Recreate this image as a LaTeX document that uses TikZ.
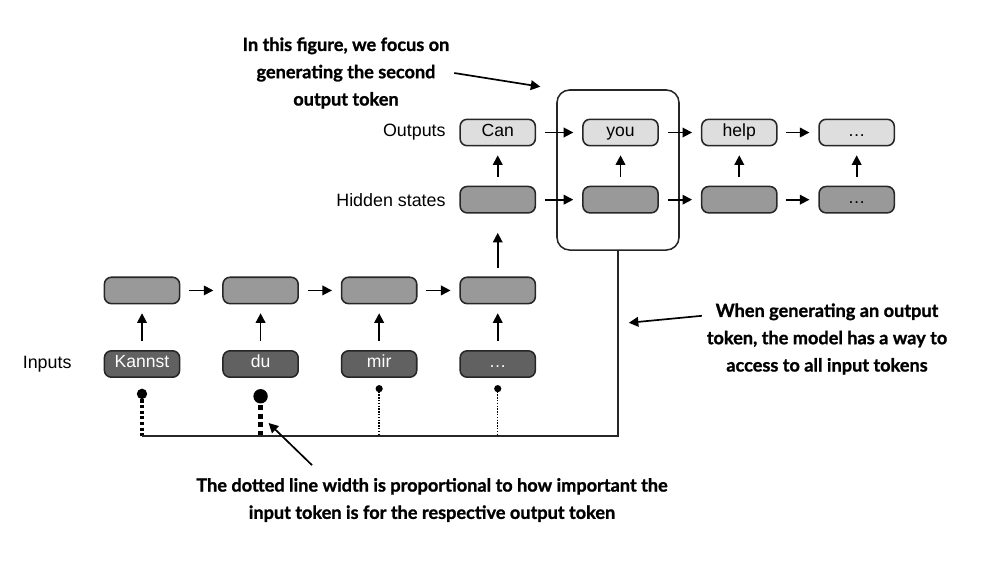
\documentclass[tikz,border=0pt]{standalone}
\usepackage{fontspec}
\setmainfont{Liberation Sans}
\newfontfamily\notefont[BoldFeatures={FakeBold=1.2}]{Lato}
\usetikzlibrary{arrows.meta, positioning, calc}

\begin{document}
\begin{tikzpicture}[
    x=0.025cm, y=-0.025cm,
    state/.style={draw=black!85, line width=1.1pt, rounded corners=5pt, minimum width=1.88cm, minimum height=0.66cm, inner sep=0pt, text height=0.72em, text depth=0.2em, font=\fontsize{12.5}{14}\selectfont},
    hidden/.style={state, fill=black!40},
    output/.style={state, fill=black!13},
    input/.style={state, fill=black!62, text=white},
    rowlabel/.style={font=\fontsize{12.7}{14}\selectfont},
    flow/.style={-{Triangle[length=2.4mm, width=2.4mm]}, line width=1.2pt, shorten <=0.22cm, shorten >=0.22cm},
    weight/.style={circle, fill=black, inner sep=0pt, minimum size=#1},
    link/.style={line width=1.1pt, draw=black!85},
    note/.style={align=center, font=\notefont\bfseries\fontsize{12.9}{19.4}\selectfont},
    pointer/.style={-{Triangle[length=2.4mm, width=2.4mm]}, line width=1.2pt},
    ]
    \useasboundingbox (0,0) rectangle (987,562);

    % Inputs (bottom)
    \node[input] (in1) at (142,364) {Kannst};
    \node[input, right=1.045cm of in1] (in2) {du};
    \node[input, right=1.045cm of in2] (in3) {mir};
    \node[input, right=1.045cm of in3] (in4) {\dots};
    \node[rowlabel, left=0.68cm of in1] {Inputs};

    % Encoder hidden states
    \node[hidden, above=1.14cm of in1] (h1) {};
    \node[hidden, above=1.14cm of in2] (h2) {};
    \node[hidden, above=1.14cm of in3] (h3) {};
    \node[hidden, above=1.14cm of in4] (h4) {};

    % Decoder hidden states and outputs
    \node[hidden, above=1.57cm of h4] (s1) {};
    \node[hidden, right=1.15cm of s1] (s2) {};
    \node[hidden, right=1.05cm of s2] (s3) {};
    \node[hidden, right=1.015cm of s3] (s4) {\dots};
    \node[output, above=0.98cm of s1] (o1) {Can};
    \node[output, above=0.98cm of s2] (o2) {you};
    \node[output, above=0.98cm of s3] (o3) {help};
    \node[output, above=0.98cm of s4] (o4) {\dots};
    \node[rowlabel, left=0.22cm of o1] {Outputs};
    \node[rowlabel, left=0.22cm of s1] {Hidden states};

    % Focus frame round the second output
    \node[draw=black!85, line width=1.1pt, rounded corners=9pt, minimum width=3.05cm, minimum height=4cm] (focus) at (618,170) {};

    % Arrows
    \foreach \i in {1,...,4} {
        \draw[flow] (in\i) -- (h\i);
        \draw[flow] (s\i) -- (o\i);
    }
    \foreach \i/\j in {1/2, 2/3, 3/4} {
        \draw[flow] (h\i) -- (h\j);
        \draw[flow] (s\i) -- (s\j);
        \draw[flow] (o\i) -- (o\j);
    }
    \draw[flow, shorten >=0.48cm] (h4) -- (s1);

    % Attention weights (dotted lines)
    \coordinate (bus) at (618,436);
    \node[weight=0.26cm, below=0.26cm of in1] (w1) {};
    \node[weight=0.36cm, below=0.27cm of in2] (w2) {};
    \node[weight=0.18cm, below=0.17cm of in3] (w3) {};
    \node[weight=0.18cm, below=0.17cm of in4] (w4) {};
    \draw[line width=2.2pt, dash pattern=on 2.2pt off 1.8pt] (w1.center) -- (w1 |- bus);
    \draw[line width=3.6pt, dash pattern=on 3.6pt off 2.6pt] (w2.center) -- (w2 |- bus);
    \draw[line width=1pt, dash pattern=on 1pt off 1pt] (w3.center) -- (w3 |- bus);
    \draw[line width=1pt, dash pattern=on 1pt off 1pt] (w4.center) -- (w4 |- bus);
    \draw[link] (focus.south) |- (w1 |- bus);

    % Notes
    \node[note] (focusnote) at (346,73) {In this figure, we focus on\\generating the second\\output token};
    \draw[pointer, shorten >=0.4cm] (focusnote.east) -- (focus.north west);

    \node[note] (accessnote) at (827,339) {When generating an output\\token, the model has a way to\\access to all input tokens};
    \draw[pointer, shorten >=0.27cm] ([yshift=0.58cm]accessnote.west) -- ($(focus.south)+(0,73)$);

    \node[note] (weightnote) at (432,500) {The dotted line width is proportional to how important the\\input token is for the respective output token};
    \draw[pointer] ($(weightnote.north)+(-120,-8)$) -- ($(w2 |- bus)+(8,-13)$);
\end{tikzpicture}
\end{document}
